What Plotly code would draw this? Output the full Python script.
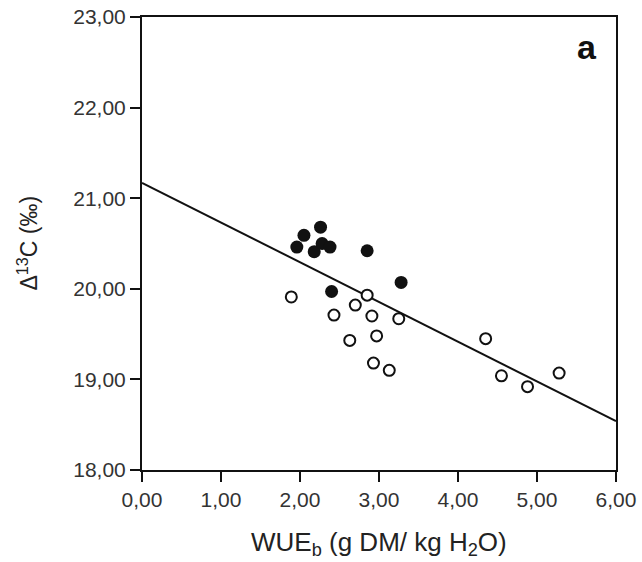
import plotly.graph_objects as go

# filled circles (upper group)
filled_x = [1.96, 2.05, 2.26, 2.18, 2.28, 2.38, 2.85, 2.40, 3.28]
filled_y = [20.46, 20.59, 20.68, 20.41, 20.50, 20.46, 20.42, 19.97, 20.07]

# open circles (lower group)
open_x = [1.89, 2.85, 2.70, 2.43, 2.91, 3.25, 2.97, 2.63, 2.93, 3.13,
          4.35, 4.55, 4.88, 5.28]
open_y = [19.91, 19.93, 19.82, 19.71, 19.70, 19.67, 19.48, 19.43, 19.18, 19.10,
          19.45, 19.04, 18.92, 19.07]

# regression line end points
fit_x = [0.0, 6.0]
fit_y = [21.17, 18.54]

x_ticks = [0, 1, 2, 3, 4, 5, 6]
y_ticks = [18, 19, 20, 21, 22, 23]

font = "Liberation Sans, Arial, sans-serif"

fig = go.Figure()
fig.add_trace(go.Scatter(
    x=fit_x, y=fit_y, mode="lines",
    line=dict(color="#111111", width=2),
))
fig.add_trace(go.Scatter(
    x=open_x, y=open_y, mode="markers",
    marker=dict(size=11, color="white", line=dict(color="#111111", width=2)),
))
fig.add_trace(go.Scatter(
    x=filled_x, y=filled_y, mode="markers",
    marker=dict(size=13, color="#111111", line=dict(width=0)),
))

axis_common = dict(
    showgrid=False, zeroline=False, showline=True, mirror=True,
    linecolor="#111111", linewidth=2, ticks="outside", ticklen=10,
    tickwidth=1.5, tickcolor="#111111", tickformat=".2f",
    tickfont=dict(family=font, size=21, color="#333333"),
    automargin=False,
)

fig.update_layout(
    width=642, height=562,
    margin=dict(l=142, r=26, t=17, b=92),
    paper_bgcolor="white", plot_bgcolor="white",
    separators=",.",
    showlegend=False,
    xaxis=dict(range=[0, 6], tickvals=x_ticks, **axis_common),
    yaxis=dict(range=[18, 23], tickvals=y_ticks, **axis_common),
    annotations=[
        dict(
            x=0.964, y=0.934, xref="paper", yref="paper", xanchor="right",
            yanchor="middle", text="<b>a</b>", showarrow=False,
            font=dict(family=font, size=34, color="#111111"),
        ),
        dict(
            x=0.5, y=0, xref="paper", yref="paper", xanchor="center",
            yanchor="middle", yshift=-73, showarrow=False,
            text="WUE<sub>b</sub> (g DM/ kg H<sub>2</sub>O)",
            font=dict(family=font, size=26, color="#222222"),
        ),
        dict(
            x=0, y=0.5, xref="paper", yref="paper", xanchor="center",
            yanchor="middle", xshift=-115, textangle=-90, showarrow=False,
            text="Δ<sup>13</sup>C (‰)",
            font=dict(family=font, size=23, color="#222222"),
        ),
    ],
)

# drop the page's default body margin so the figure sits at the window origin
fig.write_html(
    "out.html",
    config={"displayModeBar": False},
    post_script="document.body.style.margin='0';document.body.style.overflow='hidden';",
)
